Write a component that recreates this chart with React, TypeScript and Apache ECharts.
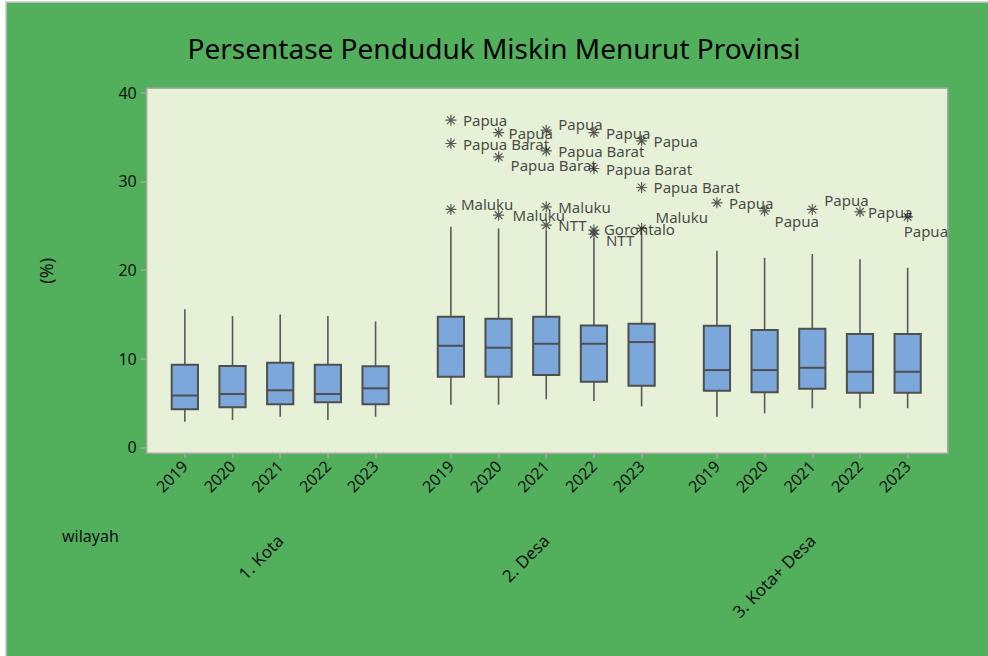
import React, { useEffect, useRef } from "react";
import * as echarts from "echarts";

const groups = ["1. Kota", "2. Desa", "3. Kota+ Desa"];
const years = ["2019", "2020", "2021", "2022", "2023"];
const yTicks = [0, 10, 20, 30, 40];

// [min whisker, Q1, median, Q3, max whisker] per year
const kotaStats = [
  [2.89, 4.28, 5.84, 9.32, 15.56],
  [3.08, 4.51, 6.01, 9.17, 14.8],
  [3.45, 4.85, 6.43, 9.54, 14.99],
  [3.08, 5.07, 6.01, 9.31, 14.8],
  [3.45, 4.85, 6.65, 9.13, 14.2],
];
const desaStats = [
  [4.8, 7.96, 11.45, 14.72, 24.87],
  [4.8, 7.96, 11.23, 14.5, 24.69],
  [5.41, 8.15, 11.68, 14.72, 24.45],
  [5.22, 7.4, 11.68, 13.75, 23.56],
  [4.62, 6.95, 11.87, 13.94, 24.1],
];
const kotaDesaStats = [
  [3.45, 6.38, 8.71, 13.71, 22.17],
  [3.83, 6.2, 8.71, 13.22, 21.38],
  [4.4, 6.61, 8.97, 13.37, 21.79],
  [4.4, 6.16, 8.52, 12.77, 21.2],
  [4.4, 6.16, 8.52, 12.77, 20.25],
];

// outliers: [group index, year index, value, province]
const desaOutliers: [number, number, number, string][] = [
  [1, 0, 36.9, "Papua"],
  [1, 0, 34.27, "Papua Barat"],
  [1, 0, 26.83, "Maluku"],
  [1, 1, 35.5, "Papua"],
  [1, 1, 32.76, "Papua Barat"],
  [1, 1, 26.19, "Maluku"],
  [1, 2, 35.77, "Papua"],
  [1, 2, 33.44, "Papua Barat"],
  [1, 2, 27.13, "Maluku"],
  [1, 2, 25.06, "NTT"],
  [1, 3, 35.5, "Papua"],
  [1, 3, 31.45, "Papua Barat"],
  [1, 3, 24.5, "Gorontalo"],
  [1, 3, 24.05, "NTT"],
  [1, 4, 34.57, "Papua"],
  [1, 4, 29.31, "Papua Barat"],
  [1, 4, 24.69, "Maluku"],
];
const kotaDesaOutliers: [number, number, number, string][] = [
  [2, 0, 27.58, "Papua"],
  [2, 1, 26.68, "Papua"],
  [2, 2, 26.83, "Papua"],
  [2, 3, 26.56, "Papua"],
  [2, 4, 26.0, "Papua"],
];

// label nudges [dx, dy] in px (layout only), same order as outliers above
const desaLabelNudge = [
  [0, 0], [0, 0], [-2, -5],
  [-2, 0], [0, 8], [2, 0],
  [0, -6], [0, 0], [0, 0], [0, 0],
  [0, 0], [0, 0], [-2, -1], [0, 6],
  [0, 0], [0, 0], [2, -11],
];
const kotaDesaLabelNudge = [[0, 0], [-2, 10], [0, -9], [-4, 0], [-16, 14]];

const GROUP_GAP = 5.58;
const BOX_W = 0.55;
const FONT = "'Noto Sans', 'Open Sans', sans-serif";

const xPos = (g: number, i: number) => +(g * GROUP_GAP + i).toFixed(2);

export default function App() {
  const ref = useRef<HTMLDivElement>(null);

  useEffect(() => {
    if (!ref.current) return;
    const chart = echarts.init(ref.current, null, { renderer: "svg" });

    const allStats = [kotaStats, desaStats, kotaDesaStats];
    const boxData: number[][] = [];
    allStats.forEach((st, g) =>
      st.forEach((s, i) => boxData.push([xPos(g, i), ...s]))
    );
    const tickVals: number[] = [];
    const tickNames: Record<string, string> = {};
    groups.forEach((_, g) =>
      years.forEach((y, i) => {
        tickVals.push(xPos(g, i));
        tickNames[xPos(g, i).toFixed(2)] = y;
      })
    );
    const groupCenters = groups.map((_, g) => xPos(g, 2));
    const groupNames: Record<string, string> = {};
    groups.forEach((n, g) => (groupNames[xPos(g, 2).toFixed(2)] = n));

    const outliers = [...desaOutliers, ...kotaDesaOutliers];
    const nudges = [...desaLabelNudge, ...kotaDesaLabelNudge];
    const outData = outliers.map((o, k) => ({
      value: [xPos(o[0], o[1]), o[2], o[3]],
      label: { offset: nudges[k] },
    }));

    const boxStroke = "#4f4f4f";

    chart.setOption({
      animation: false,
      backgroundColor: "#ffffff",
      graphic: [
        {
          type: "rect",
          z: -10,
          silent: true,
          shape: { x: 6, y: 2, width: 990, height: 660 },
          style: { fill: "#52b05c", stroke: "#c9c9c9", lineWidth: 1.5 },
        },
        {
          type: "text",
          left: 62,
          top: 528,
          style: { text: "wilayah", fontSize: 16, fontFamily: FONT, fill: "#111" },
        },
      ],
      title: {
        text: "Persentase Penduduk Miskin Menurut Provinsi",
        left: "center",
        top: 29,
        textStyle: { fontSize: 28, fontWeight: "normal", color: "#000", fontFamily: FONT },
      },
      grid: {
        left: 146.7,
        top: 88.3,
        width: 801,
        height: 365,
        show: true,
        backgroundColor: "#e6f1d8",
        borderColor: "#a9a9a9",
        borderWidth: 1.5,
      },
      xAxis: [
        {
          type: "value",
          min: -0.8,
          max: 16.0,
          splitLine: { show: false },
          axisLine: { show: false, onZero: false },
          axisTick: {
            show: true,
            customValues: tickVals,
            length: 5,
            lineStyle: { color: "#a9a9a9", width: 1.5 },
          },
          axisLabel: {
            customValues: tickVals,
            rotate: 45,
            margin: 10,
            fontSize: 16,
            color: "#111",
            fontFamily: FONT,
            formatter: (v: number) => tickNames[v.toFixed(2)] ?? "",
          },
        },
        {
          type: "value",
          min: -0.8,
          max: 16.0,
          position: "bottom",
          splitLine: { show: false },
          axisLine: { show: false, onZero: false },
          axisTick: { show: false },
          axisLabel: {
            customValues: groupCenters,
            rotate: 45,
            margin: 84,
            fontSize: 17,
            color: "#111",
            fontFamily: FONT,
            formatter: (v: number) => groupNames[v.toFixed(2)] ?? "",
          },
        },
      ],
      yAxis: {
        type: "value",
        min: -0.68,
        max: 40.5,
        name: "(%)",
        nameLocation: "middle",
        nameGap: 92,
        nameTextStyle: { fontSize: 18, color: "#111", fontFamily: FONT },
        splitLine: { show: false },
        axisLine: { show: false, onZero: false },
        axisTick: {
          show: true,
          customValues: yTicks,
          length: 6,
          lineStyle: { color: "#a9a9a9", width: 1.5 },
        },
        axisLabel: {
          customValues: yTicks,
          margin: 10,
          fontSize: 16,
          color: "#111",
          fontFamily: FONT,
        },
      },
      series: [
        {
          type: "custom",
          xAxisIndex: 0,
          encode: { x: 0, y: [1, 2, 3, 4, 5] },
          data: boxData,
          renderItem: (params: any, api: any) => {
            const x = api.value(0);
            const pMin = api.coord([x, api.value(1)]);
            const pQ1 = api.coord([x, api.value(2)]);
            const pMed = api.coord([x, api.value(3)]);
            const pQ3 = api.coord([x, api.value(4)]);
            const pMax = api.coord([x, api.value(5)]);
            const w = api.size([BOX_W, 0])[0];
            const ls = { stroke: boxStroke, lineWidth: 1.6 };
            return {
              type: "group",
              children: [
                { type: "line", shape: { x1: pMax[0], y1: pMax[1], x2: pQ3[0], y2: pQ3[1] }, style: { ...ls, stroke: "#5a5a5a" } },
                { type: "line", shape: { x1: pQ1[0], y1: pQ1[1], x2: pMin[0], y2: pMin[1] }, style: { ...ls, stroke: "#5a5a5a" } },
                {
                  type: "rect",
                  shape: { x: pQ3[0] - w / 2, y: pQ3[1], width: w, height: pQ1[1] - pQ3[1] },
                  style: { fill: "#7ba7db", stroke: boxStroke, lineWidth: 2 },
                },
                { type: "line", shape: { x1: pMed[0] - w / 2, y1: pMed[1], x2: pMed[0] + w / 2, y2: pMed[1] }, style: { ...ls, lineWidth: 2 } },
              ],
            };
          },
        },
        {
          type: "scatter",
          xAxisIndex: 0,
          data: outData,
          symbol: "path://M0,5L10,5M5,0L5,10M1.5,1.5L8.5,8.5M1.5,8.5L8.5,1.5",
          symbolSize: 11,
          itemStyle: { color: "none", borderColor: "#333", borderWidth: 1.2 },
          label: {
            show: true,
            position: "right",
            distance: 4,
            fontSize: 15,
            color: "#1a1a1a",
            fontFamily: FONT,
            formatter: (p: any) => p.value[2],
          },
        },
      ],
    });
    return () => chart.dispose();
  }, []);

  return (
    <div
      ref={ref}
      style={{ position: "fixed", left: 0, top: 0, width: 988, height: 656 }}
    />
  );
}
